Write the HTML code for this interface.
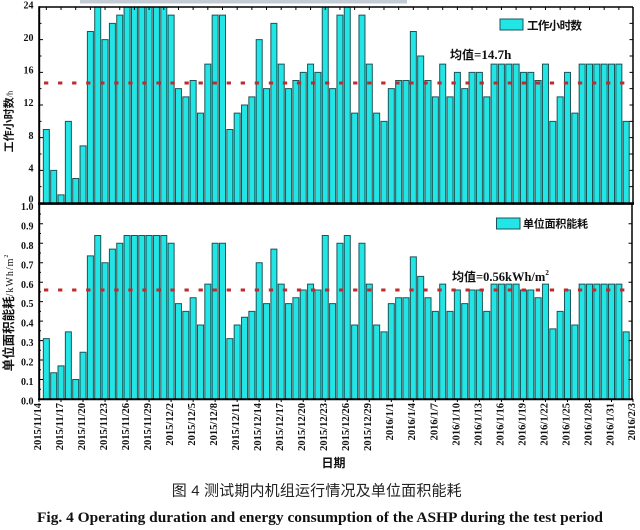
<!DOCTYPE html>
<html><head><meta charset="utf-8">
<style>
html,body{margin:0;padding:0;background:#fff;}
svg{display:block;}
.b rect{vector-effect:non-scaling-stroke;}
.tl{font-family:"Liberation Serif",serif;font-weight:bold;font-size:10px;fill:#111;}
.xl{font-family:"Liberation Serif",serif;font-weight:bold;font-size:10.5px;fill:#111;}
.cj{font-family:"Liberation Sans","Noto Sans CJK SC",sans-serif;font-weight:bold;fill:#111;}
</style></head>
<body>
<svg width="640" height="530" viewBox="0 0 640 530" xmlns="http://www.w3.org/2000/svg">
<rect x="0" y="0" width="640" height="530" fill="#fff"/>
<rect x="80" y="0" width="327" height="3.5" fill="#c3ccd5"/>

<!-- TOP PANEL BARS -->
<g class="b" transform="translate(36,203) scale(7.34,-8.1667)" fill="#22e6e6" stroke="#1d5457" stroke-width="1">
<rect x="1" y="0" width="0.8174" height="9"/>
<rect x="2" y="0" width="0.8174" height="4"/>
<rect x="3" y="0" width="0.8174" height="1"/>
<rect x="4" y="0" width="0.8174" height="10"/>
<rect x="5" y="0" width="0.8174" height="3"/>
<rect x="6" y="0" width="0.8174" height="7"/>
<rect x="7" y="0" width="0.8174" height="21"/>
<rect x="8" y="0" width="0.8174" height="24"/>
<rect x="9" y="0" width="0.8174" height="20"/>
<rect x="10" y="0" width="0.8174" height="22"/>
<rect x="11" y="0" width="0.8174" height="23"/>
<rect x="12" y="0" width="0.8174" height="24"/>
<rect x="13" y="0" width="0.8174" height="24"/>
<rect x="14" y="0" width="0.8174" height="24"/>
<rect x="15" y="0" width="0.8174" height="24"/>
<rect x="16" y="0" width="0.8174" height="24"/>
<rect x="17" y="0" width="0.8174" height="24"/>
<rect x="18" y="0" width="0.8174" height="23"/>
<rect x="19" y="0" width="0.8174" height="14"/>
<rect x="20" y="0" width="0.8174" height="13"/>
<rect x="21" y="0" width="0.8174" height="15"/>
<rect x="22" y="0" width="0.8174" height="11"/>
<rect x="23" y="0" width="0.8174" height="17"/>
<rect x="24" y="0" width="0.8174" height="23"/>
<rect x="25" y="0" width="0.8174" height="23"/>
<rect x="26" y="0" width="0.8174" height="9"/>
<rect x="27" y="0" width="0.8174" height="11"/>
<rect x="28" y="0" width="0.8174" height="12"/>
<rect x="29" y="0" width="0.8174" height="13"/>
<rect x="30" y="0" width="0.8174" height="20"/>
<rect x="31" y="0" width="0.8174" height="14"/>
<rect x="32" y="0" width="0.8174" height="22"/>
<rect x="33" y="0" width="0.8174" height="17"/>
<rect x="34" y="0" width="0.8174" height="14"/>
<rect x="35" y="0" width="0.8174" height="15"/>
<rect x="36" y="0" width="0.8174" height="16"/>
<rect x="37" y="0" width="0.8174" height="17"/>
<rect x="38" y="0" width="0.8174" height="16"/>
<rect x="39" y="0" width="0.8174" height="24"/>
<rect x="40" y="0" width="0.8174" height="14"/>
<rect x="41" y="0" width="0.8174" height="23"/>
<rect x="42" y="0" width="0.8174" height="24"/>
<rect x="43" y="0" width="0.8174" height="11"/>
<rect x="44" y="0" width="0.8174" height="23"/>
<rect x="45" y="0" width="0.8174" height="17"/>
<rect x="46" y="0" width="0.8174" height="11"/>
<rect x="47" y="0" width="0.8174" height="10"/>
<rect x="48" y="0" width="0.8174" height="14"/>
<rect x="49" y="0" width="0.8174" height="15"/>
<rect x="50" y="0" width="0.8174" height="15"/>
<rect x="51" y="0" width="0.8174" height="21"/>
<rect x="52" y="0" width="0.8174" height="18"/>
<rect x="53" y="0" width="0.8174" height="15"/>
<rect x="54" y="0" width="0.8174" height="13"/>
<rect x="55" y="0" width="0.8174" height="17"/>
<rect x="56" y="0" width="0.8174" height="13"/>
<rect x="57" y="0" width="0.8174" height="16"/>
<rect x="58" y="0" width="0.8174" height="14"/>
<rect x="59" y="0" width="0.8174" height="16"/>
<rect x="60" y="0" width="0.8174" height="16"/>
<rect x="61" y="0" width="0.8174" height="13"/>
<rect x="62" y="0" width="0.8174" height="17"/>
<rect x="63" y="0" width="0.8174" height="17"/>
<rect x="64" y="0" width="0.8174" height="17"/>
<rect x="65" y="0" width="0.8174" height="17"/>
<rect x="66" y="0" width="0.8174" height="16"/>
<rect x="67" y="0" width="0.8174" height="16"/>
<rect x="68" y="0" width="0.8174" height="15"/>
<rect x="69" y="0" width="0.8174" height="17"/>
<rect x="70" y="0" width="0.8174" height="10"/>
<rect x="71" y="0" width="0.8174" height="13"/>
<rect x="72" y="0" width="0.8174" height="16"/>
<rect x="73" y="0" width="0.8174" height="11"/>
<rect x="74" y="0" width="0.8174" height="17"/>
<rect x="75" y="0" width="0.8174" height="17"/>
<rect x="76" y="0" width="0.8174" height="17"/>
<rect x="77" y="0" width="0.8174" height="17"/>
<rect x="78" y="0" width="0.8174" height="17"/>
<rect x="79" y="0" width="0.8174" height="17"/>
<rect x="80" y="0" width="0.8174" height="10"/>
</g>

<!-- BOTTOM PANEL BARS -->
<g class="b" transform="translate(36,399) scale(7.34,-194.7)" fill="#22e6e6" stroke="#1d5457" stroke-width="1">
<rect x="1" y="0" width="0.8174" height="0.31"/>
<rect x="2" y="0" width="0.8174" height="0.135"/>
<rect x="3" y="0" width="0.8174" height="0.17"/>
<rect x="4" y="0" width="0.8174" height="0.345"/>
<rect x="5" y="0" width="0.8174" height="0.10"/>
<rect x="6" y="0" width="0.8174" height="0.24"/>
<rect x="7" y="0" width="0.8174" height="0.735"/>
<rect x="8" y="0" width="0.8174" height="0.84"/>
<rect x="9" y="0" width="0.8174" height="0.70"/>
<rect x="10" y="0" width="0.8174" height="0.77"/>
<rect x="11" y="0" width="0.8174" height="0.80"/>
<rect x="12" y="0" width="0.8174" height="0.84"/>
<rect x="13" y="0" width="0.8174" height="0.84"/>
<rect x="14" y="0" width="0.8174" height="0.84"/>
<rect x="15" y="0" width="0.8174" height="0.84"/>
<rect x="16" y="0" width="0.8174" height="0.84"/>
<rect x="17" y="0" width="0.8174" height="0.84"/>
<rect x="18" y="0" width="0.8174" height="0.80"/>
<rect x="19" y="0" width="0.8174" height="0.49"/>
<rect x="20" y="0" width="0.8174" height="0.45"/>
<rect x="21" y="0" width="0.8174" height="0.52"/>
<rect x="22" y="0" width="0.8174" height="0.38"/>
<rect x="23" y="0" width="0.8174" height="0.59"/>
<rect x="24" y="0" width="0.8174" height="0.80"/>
<rect x="25" y="0" width="0.8174" height="0.80"/>
<rect x="26" y="0" width="0.8174" height="0.31"/>
<rect x="27" y="0" width="0.8174" height="0.38"/>
<rect x="28" y="0" width="0.8174" height="0.42"/>
<rect x="29" y="0" width="0.8174" height="0.45"/>
<rect x="30" y="0" width="0.8174" height="0.70"/>
<rect x="31" y="0" width="0.8174" height="0.49"/>
<rect x="32" y="0" width="0.8174" height="0.77"/>
<rect x="33" y="0" width="0.8174" height="0.59"/>
<rect x="34" y="0" width="0.8174" height="0.49"/>
<rect x="35" y="0" width="0.8174" height="0.52"/>
<rect x="36" y="0" width="0.8174" height="0.56"/>
<rect x="37" y="0" width="0.8174" height="0.59"/>
<rect x="38" y="0" width="0.8174" height="0.56"/>
<rect x="39" y="0" width="0.8174" height="0.84"/>
<rect x="40" y="0" width="0.8174" height="0.49"/>
<rect x="41" y="0" width="0.8174" height="0.80"/>
<rect x="42" y="0" width="0.8174" height="0.84"/>
<rect x="43" y="0" width="0.8174" height="0.38"/>
<rect x="44" y="0" width="0.8174" height="0.80"/>
<rect x="45" y="0" width="0.8174" height="0.59"/>
<rect x="46" y="0" width="0.8174" height="0.38"/>
<rect x="47" y="0" width="0.8174" height="0.345"/>
<rect x="48" y="0" width="0.8174" height="0.49"/>
<rect x="49" y="0" width="0.8174" height="0.52"/>
<rect x="50" y="0" width="0.8174" height="0.52"/>
<rect x="51" y="0" width="0.8174" height="0.73"/>
<rect x="52" y="0" width="0.8174" height="0.63"/>
<rect x="53" y="0" width="0.8174" height="0.52"/>
<rect x="54" y="0" width="0.8174" height="0.45"/>
<rect x="55" y="0" width="0.8174" height="0.59"/>
<rect x="56" y="0" width="0.8174" height="0.45"/>
<rect x="57" y="0" width="0.8174" height="0.56"/>
<rect x="58" y="0" width="0.8174" height="0.49"/>
<rect x="59" y="0" width="0.8174" height="0.56"/>
<rect x="60" y="0" width="0.8174" height="0.56"/>
<rect x="61" y="0" width="0.8174" height="0.45"/>
<rect x="62" y="0" width="0.8174" height="0.59"/>
<rect x="63" y="0" width="0.8174" height="0.59"/>
<rect x="64" y="0" width="0.8174" height="0.59"/>
<rect x="65" y="0" width="0.8174" height="0.59"/>
<rect x="66" y="0" width="0.8174" height="0.56"/>
<rect x="67" y="0" width="0.8174" height="0.56"/>
<rect x="68" y="0" width="0.8174" height="0.52"/>
<rect x="69" y="0" width="0.8174" height="0.59"/>
<rect x="70" y="0" width="0.8174" height="0.36"/>
<rect x="71" y="0" width="0.8174" height="0.45"/>
<rect x="72" y="0" width="0.8174" height="0.56"/>
<rect x="73" y="0" width="0.8174" height="0.38"/>
<rect x="74" y="0" width="0.8174" height="0.59"/>
<rect x="75" y="0" width="0.8174" height="0.59"/>
<rect x="76" y="0" width="0.8174" height="0.59"/>
<rect x="77" y="0" width="0.8174" height="0.59"/>
<rect x="78" y="0" width="0.8174" height="0.59"/>
<rect x="79" y="0" width="0.8174" height="0.59"/>
<rect x="80" y="0" width="0.8174" height="0.345"/>
</g>

<!-- mean lines -->
<line x1="44" y1="83" x2="632" y2="83" stroke="#bf2a2c" stroke-width="3" stroke-dasharray="4.3 9.75"/>
<line x1="44" y1="290" x2="632" y2="290" stroke="#bf2a2c" stroke-width="3" stroke-dasharray="4.3 9.75"/>

<!-- frames -->
<g fill="none" stroke="#000">
<line x1="39" y1="7" x2="633" y2="7" stroke-width="1.5"/>
<line x1="633" y1="7" x2="633" y2="204" stroke-width="1.5"/>
<line x1="632" y1="204" x2="632" y2="400" stroke-width="1.5"/>
<line x1="39.2" y1="6.3" x2="39.2" y2="400" stroke-width="2"/>
<line x1="38" y1="203.6" x2="634" y2="203.6" stroke-width="2.6"/>
<line x1="38" y1="399.2" x2="633" y2="399.2" stroke-width="2"/>
</g>

<!-- ticks -->
<g stroke="#000" stroke-width="1" fill="none">
<path d="M39 7h4M39 39.67h4M39 72.33h4M39 105h4M39 137.67h4M39 170.33h4M39 186.67h2.5M39 154h2.5M39 121.33h2.5M39 88.67h2.5M39 56h2.5M39 23.33h2.5"/>
<path d="M633 186.67h-3.5M633 170.33h-3.5M633 154h-3.5M633 137.67h-3.5M633 121.33h-3.5M633 105h-3.5M633 88.67h-3.5M633 72.33h-3.5M633 56h-3.5M633 39.67h-3.5M633 23.33h-3.5"/>
<path d="M39 223.8h4M39 243.2h4M39 262.7h4M39 282.2h4M39 301.6h4M39 321.1h4M39 340.6h4M39 360h4M39 379.5h4M39 214h2M39 233.5h2M39 253h2M39 272.4h2M39 291.9h2M39 311.4h2M39 330.8h2M39 350.3h2M39 369.8h2M39 389.3h2"/>
<path d="M632 223.8h-3.5M632 243.2h-3.5M632 262.7h-3.5M632 282.2h-3.5M632 301.6h-3.5M632 321.1h-3.5M632 340.6h-3.5M632 360h-3.5M632 379.5h-3.5"/>
<path d="M46.34 7v3M61.02 7v3M75.7 7v3M90.38 7v3M105.06 7v3M119.74 7v3M134.42 7v3M149.1 7v3M163.78 7v3M178.46 7v3M193.14 7v3M207.82 7v3M222.5 7v3M237.18 7v3M251.86 7v3M266.54 7v3M281.22 7v3M295.9 7v3M310.58 7v3M325.26 7v3M339.94 7v3M354.62 7v3M369.3 7v3M383.98 7v3M398.66 7v3M413.34 7v3M428.02 7v3M442.7 7v3M457.38 7v3M472.06 7v3M486.74 7v3M501.42 7v3M516.1 7v3M530.78 7v3M545.46 7v3M560.14 7v3M574.82 7v3M589.5 7v3M604.18 7v3M618.86 7v3"/>
<path d="M39 399v3M61.02 399v3M83.04 399v3M105.06 399v3M127.08 399v3M149.1 399v3M171.12 399v3M193.14 399v3M215.16 399v3M237.18 399v3M259.2 399v3M281.22 399v3M303.24 399v3M325.26 399v3M347.28 399v3M369.3 399v3M391.32 399v3M413.34 399v3M435.36 399v3M457.38 399v3M479.4 399v3M501.42 399v3M523.44 399v3M545.46 399v3M567.48 399v3M589.5 399v3M611.52 399v3M633 399v3"/>
</g>

<!-- y tick labels -->
<g class="tl" text-anchor="end">
<text x="33.5" y="8.6">24</text>
<text x="33.5" y="40.8">20</text>
<text x="33.5" y="73.4">16</text>
<text x="33.5" y="106.1">12</text>
<text x="33.5" y="138.8">8</text>
<text x="33.5" y="171.4">4</text>
<text x="33.5" y="202.6">0</text>
<text x="33.5" y="209.9">1.0</text>
<text x="33.5" y="229.4">0.9</text>
<text x="33.5" y="248.8">0.8</text>
<text x="33.5" y="268.3">0.7</text>
<text x="33.5" y="287.8">0.6</text>
<text x="33.5" y="307.2">0.5</text>
<text x="33.5" y="326.7">0.4</text>
<text x="33.5" y="346.2">0.3</text>
<text x="33.5" y="365.6">0.2</text>
<text x="33.5" y="385.1">0.1</text>
<text x="33.5" y="404.6">0.0</text>
</g>

<!-- x labels -->
<g class="xl" text-anchor="end">
<text transform="translate(40.9,403) rotate(-90)">2015/11/14</text>
<text transform="translate(62.92,403) rotate(-90)">2015/11/17</text>
<text transform="translate(84.94,403) rotate(-90)">2015/11/20</text>
<text transform="translate(106.96,403) rotate(-90)">2015/11/23</text>
<text transform="translate(128.98,403) rotate(-90)">2015/11/26</text>
<text transform="translate(151,403) rotate(-90)">2015/11/29</text>
<text transform="translate(173.02,403) rotate(-90)">2015/12/2</text>
<text transform="translate(195.04,403) rotate(-90)">2015/12/5</text>
<text transform="translate(217.06,403) rotate(-90)">2015/12/8</text>
<text transform="translate(239.08,403) rotate(-90)">2015/12/11</text>
<text transform="translate(261.1,403) rotate(-90)">2015/12/14</text>
<text transform="translate(283.12,403) rotate(-90)">2015/12/17</text>
<text transform="translate(305.14,403) rotate(-90)">2015/12/20</text>
<text transform="translate(327.16,403) rotate(-90)">2015/12/23</text>
<text transform="translate(349.18,403) rotate(-90)">2015/12/26</text>
<text transform="translate(371.2,403) rotate(-90)">2015/12/29</text>
<text transform="translate(393.22,403) rotate(-90)">2016/1/1</text>
<text transform="translate(415.24,403) rotate(-90)">2016/1/4</text>
<text transform="translate(437.26,403) rotate(-90)">2016/1/7</text>
<text transform="translate(459.28,403) rotate(-90)">2016/1/10</text>
<text transform="translate(481.3,403) rotate(-90)">2016/1/13</text>
<text transform="translate(503.32,403) rotate(-90)">2016/1/16</text>
<text transform="translate(525.34,403) rotate(-90)">2016/1/19</text>
<text transform="translate(547.36,403) rotate(-90)">2016/1/22</text>
<text transform="translate(569.38,403) rotate(-90)">2016/1/25</text>
<text transform="translate(591.4,403) rotate(-90)">2016/1/28</text>
<text transform="translate(613.42,403) rotate(-90)">2016/1/31</text>
<text transform="translate(635.2,403) rotate(-90)">2016/2/3</text>
</g>

<!-- y axis titles -->
<text class="cj" font-size="11" text-anchor="middle" transform="translate(12.5,121.5) rotate(-90)">工作小时数<tspan font-family="Liberation Serif,serif" font-weight="normal" font-size="8.5">/h</tspan></text>
<text class="cj" font-size="12.5" text-anchor="middle" transform="translate(12.8,313) rotate(-90)">单位面积能耗<tspan font-family="Liberation Serif,serif" font-weight="normal" font-size="10" letter-spacing="1">/kWh/m</tspan><tspan font-family="Liberation Serif,serif" font-weight="normal" font-size="6" dy="-5">2</tspan></text>

<!-- legends -->
<rect x="500" y="19" width="23" height="11" fill="#22e6e6" stroke="#1d5457" stroke-width="1"/>
<text class="cj" x="527" y="29.5" font-size="11.5" textLength="55" lengthAdjust="spacing">工作小时数</text>
<rect x="496.5" y="218" width="23.5" height="11" fill="#22e6e6" stroke="#1d5457" stroke-width="1"/>
<text class="cj" x="523" y="227.5" font-size="11" textLength="65" lengthAdjust="spacing">单位面积能耗</text>

<!-- mean labels -->
<text x="450" y="59" fill="#111"><tspan class="cj" font-size="12">均值</tspan><tspan font-family="Liberation Serif,serif" font-weight="bold" font-size="13">=14.7h</tspan></text>
<text x="452" y="281" fill="#111"><tspan class="cj" font-size="12">均值</tspan><tspan font-family="Liberation Serif,serif" font-weight="bold" font-size="12.5">=0.56kWh/m</tspan><tspan font-family="Liberation Serif,serif" font-weight="bold" font-size="7" dy="-6">2</tspan></text>

<!-- x title -->
<text class="cj" x="333.5" y="467" font-size="12" text-anchor="middle">日期</text>

<!-- captions -->
<text x="316.7" y="495.5" font-family="Liberation Sans,Noto Sans CJK SC,sans-serif" font-size="15" fill="#222" text-anchor="middle" textLength="290" lengthAdjust="spacing">图 4 测试期内机组运行情况及单位面积能耗</text>
<text x="320" y="522" font-family="Liberation Serif,serif" font-weight="bold" font-size="15" fill="#111" text-anchor="middle" textLength="566" lengthAdjust="spacingAndGlyphs">Fig. 4 Operating duration and energy consumption of the ASHP during the test period</text>
</svg>
</body></html>
